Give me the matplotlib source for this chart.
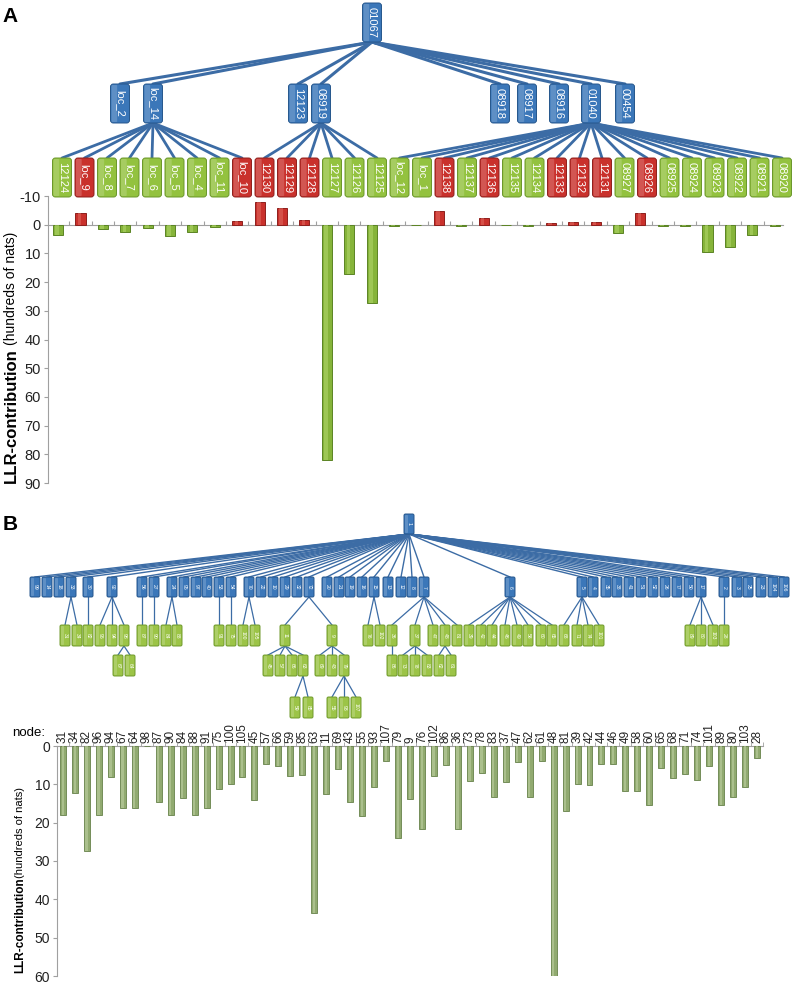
import matplotlib
matplotlib.use('Agg')
import matplotlib.pyplot as plt
from matplotlib.patches import FancyBboxPatch
import numpy as np

plt.rcParams['font.family'] = ['Liberation Sans', 'DejaVu Sans']
NARROW = ['Liberation Sans Narrow', 'Liberation Sans', 'DejaVu Sans']

# ---------------- Panel A data ----------------
a_root = '01067'
a_mid = ['loc_2', 'loc_14', '12123', '08919', '08918', '08917', '08916', '01040', '00454']
a_leaves = ['12124', 'loc_9', 'loc_8', 'loc_7', 'loc_6', 'loc_5', 'loc_4', 'loc_11', 'loc_10',
            '12130', '12129', '12128', '12127', '12126', '12125', 'loc_12', 'loc_1',
            '12138', '12137', '12136', '12135', '12134', '12133', '12132', '12131',
            '08927', '08926', '08925', '08924', '08923', '08922', '08921', '08920']
a_leaf_parent = ['loc_14'] * 9 + ['08919'] * 6 + ['01040'] * 18
a_leaf_class = ['g', 'r', 'g', 'g', 'g', 'g', 'g', 'g', 'r',
                'r', 'r', 'r', 'g', 'g', 'g', 'g', 'g',
                'r', 'g', 'r', 'g', 'g', 'r', 'r', 'r',
                'g', 'r', 'g', 'g', 'g', 'g', 'g', 'g']
a_llr = [3.5, -4.0, 1.5, 2.6, 1.2, 4.0, 2.6, 0.7, -1.2,
         -7.8, -5.9, -1.7, 82.0, 17.3, 27.2, 0.3, 0.0,
         -4.6, 0.4, -2.5, 0.0, 0.3, -0.5, -1.1, -1.1,
         2.9, -4.2, 0.4, 0.6, 9.5, 7.9, 3.5, 0.3]
a_yticks = [-10, 0, 10, 20, 30, 40, 50, 60, 70, 80, 90]

# ---------------- Panel B data ----------------
b_root = '1'
b_mid = ['99', '14', '18', '33', '30', '92', '56', '27', '24', '95',
         '97', '40', '53', '54', '70', '22', '10', '29', '32', '72',
         '20', '21', '19', '16', '15', '13', '12', '8', '7', '6',
         '5', '4', '35', '38', '41', '51', '52', '26', '77', '50',
         '17', '2', '3', '25', '23', '104', '106']
# green nodes: (label, parent, row)
b_green = [('31', '33', 1), ('34', '33', 1), ('82', '30', 1), ('96', '92', 1), ('94', '92', 1),
           ('98', '92', 1), ('87', '56', 1), ('90', '27', 1), ('84', '24', 1), ('88', '24', 1),
           ('91', '53', 1), ('75', '54', 1), ('100', '70', 1), ('105', '70', 1), ('11', '72', 1),
           ('9', '72', 1), ('76', '15', 1), ('102', '15', 1), ('36', '7', 1), ('37', '7', 1),
           ('47', '7', 1), ('48', '7', 1), ('81', '7', 1),
           ('39', '6', 1), ('42', '6', 1), ('44', '6', 1), ('46', '6', 1), ('49', '6', 1),
           ('58', '6', 1), ('60', '6', 1), ('65', '6', 1),
           ('68', '5', 1), ('71', '5', 1), ('74', '5', 1), ('101', '5', 1),
           ('89', '17', 1), ('80', '17', 1), ('103', '17', 1), ('28', '2', 1),
           ('67', '98', 2), ('64', '98', 2), ('45', '11', 2), ('57', '11', 2), ('66', '11', 2),
           ('63', '11', 2), ('69', '9', 2), ('43', '9', 2), ('79', '9', 2), ('86', '36', 2),
           ('73', '37', 2), ('78', '37', 2), ('83', '37', 2), ('62', '48', 2), ('61', '48', 2),
           ('59', '63', 3), ('85', '63', 3), ('55', '79', 3), ('93', '79', 3), ('107', '79', 3)]
b_nodes = ['31', '34', '82', '96', '94', '67', '64', '98', '87', '90', '84', '88', '91', '75',
           '100', '105', '45', '57', '66', '59', '85', '63', '11', '69', '43', '55', '93', '107',
           '79', '9', '76', '102', '86', '36', '73', '78', '83', '37', '47', '62', '61', '48',
           '81', '39', '42', '44', '46', '49', '58', '60', '65', '68', '71', '74', '101', '89',
           '80', '103', '28']
b_llr = [18.1, 12.2, 27.5, 18.1, 8.2, 16.3, 16.1, 0.0, 14.7, 18.1, 13.5, 18.1, 16.3, 11.2,
         9.9, 8.1, 14.2, 4.7, 5.3, 7.8, 7.6, 43.5, 12.5, 6.0, 14.7, 18.3, 10.8, 4.0,
         24.0, 13.8, 21.6, 7.8, 4.9, 21.6, 9.0, 7.1, 13.4, 9.5, 4.3, 13.4, 3.9, 60.5,
         17.0, 9.8, 10.1, 4.7, 4.7, 11.8, 11.8, 15.5, 5.8, 8.4, 7.2, 8.8, 5.3, 15.5,
         13.3, 10.7, 3.2]
b_yticks = [0, 10, 20, 30, 40, 50, 60]

# ---------------- layout (pixels) ----------------
W, H = 795, 984
A_root_xy = (372, 3)
A_mid_x = [120, 153, 298, 321, 500, 527, 559, 591, 625]
A_mid_top, A_leaf_top, A_boxh, A_boxw = 84, 158, 39, 19
A_leaf_x = [62 + 22.5 * i for i in range(len(a_leaves))]

B_root_xy = (409, 514)
B_mid_x = [35, 47, 59, 71, 88, 112, 142, 154, 172, 184,
           196, 207, 219, 231, 249, 261, 273, 285, 297, 309,
           327, 339, 350, 362, 374, 388, 401, 412, 424, 510,
           582, 593, 606, 617, 629, 641, 653, 665, 677, 689,
           701, 724, 737, 748, 761, 773, 784]
B_green_x = [65, 77, 88, 100, 112, 124, 142, 154, 166, 177, 219, 231, 243, 255, 285, 332,
             368, 380, 392, 415, 433, 445, 457, 469, 481, 492, 505, 517, 528, 541, 552,
             564, 577, 588, 599, 690, 701, 713, 724,
             118, 130, 268, 280, 292, 303, 320, 332, 344, 392, 403, 415, 427, 439, 451,
             295, 308, 332, 344, 356]
B_row_top = {0: 577, 1: 625, 2: 655, 3: 697}
B_boxw, B_boxh = 10, 20
B_top, B_bot = 746, 976

BLUE, BLUE_E = '#3b77b9', '#25568c'
GREEN, GREEN_E = '#93c23f', '#6a962a'
RED, RED_E = '#c9312c', '#8e1f1c'
LINE = '#3c6ca5'

fig = plt.figure(figsize=(W / 100, H / 100), dpi=100)
ov = fig.add_axes([0, 0, 1, 1])
ov.set_xlim(0, W)
ov.set_ylim(H, 0)
ov.axis('off')


def box(cx, top, w, h, fc, ec, label, fs):
    ov.add_patch(FancyBboxPatch((cx - w / 2, top), w, h,
                                boxstyle="round,pad=0,rounding_size=%.1f" % (min(w, h) * 0.15),
                                fc=fc, ec=ec, lw=0.7, zorder=3))
    ov.add_patch(FancyBboxPatch((cx - w / 2 + 1, top + 1), w * 0.3, h - 2,
                                boxstyle="round,pad=0,rounding_size=1",
                                fc='white', ec='none', alpha=0.18, zorder=4))
    ov.text(cx, top + h / 2, label, rotation=-90, ha='center', va='center',
            color='white', fontsize=fs, zorder=5)


# ---- Panel A tree ----
ov.text(10, 16, 'A', fontsize=15, fontweight='bold', ha='center', va='center')
rx, ry = A_root_xy
mid_pos = dict(zip(a_mid, A_mid_x))
for x in A_mid_x:
    ov.plot([rx, x], [ry + A_boxh, A_mid_top], color=LINE, lw=2.2, zorder=2,
            solid_capstyle='round')
for lab, x, par in zip(a_leaves, A_leaf_x, a_leaf_parent):
    ov.plot([mid_pos[par], x], [A_mid_top + A_boxh, A_leaf_top], color=LINE, lw=2.0,
            zorder=2, solid_capstyle='round')
box(rx, ry, A_boxw, A_boxh, BLUE, BLUE_E, a_root, 8)
for lab, x in zip(a_mid, A_mid_x):
    box(x, A_mid_top, A_boxw, A_boxh, BLUE, BLUE_E, lab, 8)
for lab, x, c in zip(a_leaves, A_leaf_x, a_leaf_class):
    if c == 'r':
        box(x, A_leaf_top, A_boxw, A_boxh, RED, RED_E, lab, 8)
    else:
        box(x, A_leaf_top, A_boxw, A_boxh, GREEN, GREEN_E, lab, 8)

# ---- Panel B tree ----
ov.text(10, 525, 'B', fontsize=15, fontweight='bold', ha='center', va='center')
brx, bry = B_root_xy
pos = {}
for lab, x in zip(b_mid, B_mid_x):
    pos[lab] = (x, 0)
for (lab, par, row), x in zip(b_green, B_green_x):
    pos[lab] = (x, row)
for x in B_mid_x:
    ov.plot([brx, x], [bry + B_boxh, B_row_top[0]], color=LINE, lw=1.0, zorder=2)
for lab, par, row in b_green:
    px_, prow = pos[par]
    cx, _ = pos[lab]
    ov.plot([px_, cx], [B_row_top[prow] + B_boxh + (1 if prow else 0), B_row_top[row]],
            color=LINE, lw=0.9, zorder=2)
box(brx, bry, B_boxw, B_boxh, BLUE, BLUE_E, b_root, 4)
for lab, x in zip(b_mid, B_mid_x):
    box(x, B_row_top[0], B_boxw, B_boxh, BLUE, BLUE_E, lab, 3.6)
for lab, par, row in b_green:
    x, _ = pos[lab]
    box(x, B_row_top[row], B_boxw, B_boxh + 1, '#9cc447', '#6f9a2c', lab, 3.6)

# ---- Panel A bars ----
axA = fig.add_axes([48 / W, 1 - 483 / H, (783 - 48) / W, (483 - 196) / H])
xa = np.arange(len(a_leaves))
fa = [RED if c == 'r' else '#86b43a' for c in a_leaf_class]
ea = [RED_E if c == 'r' else '#5b8424' for c in a_leaf_class]
ha_ = ['#e06a60' if c == 'r' else '#b3d86c' for c in a_leaf_class]
axA.bar(xa, a_llr, width=0.45, color=fa, edgecolor=ea, linewidth=0.7, zorder=3)
axA.bar(xa - 0.04, a_llr, width=0.16, color=ha_, edgecolor='none', alpha=0.55, zorder=4)
axA.set_ylim(90, -10)
axA.set_xlim(-0.45, 32.37)
axA.set_yticks(a_yticks)
axA.set_yticklabels([str(v) for v in a_yticks], fontsize=10.5, family=NARROW, color='#222222')
for s in ['right', 'bottom']:
    axA.spines[s].set_visible(False)
axA.spines['top'].set_position(('data', 0))
axA.spines['top'].set_color('#a0a0a0')
axA.spines['left'].set_color('#a0a0a0')
axA.xaxis.set_ticks_position('top')
axA.set_xticks(np.arange(len(a_leaves) - 1) + 0.5)
axA.set_xticklabels([])
axA.tick_params(axis='x', length=3, color='#a0a0a0', direction='out')
axA.tick_params(axis='y', length=3, color='#a0a0a0', pad=2)
axA.patch.set_alpha(0)

fig.text(11 / W, 1 - 416 / H, 'LLR-contribution', rotation=90, fontsize=12,
         fontweight='bold', ha='center', va='center')
fig.text(11 / W, 1 - 288 / H, '(hundreds of nats)', rotation=90, fontsize=10,
         ha='center', va='center', family=NARROW)

# ---- Panel B bars ----
axB = fig.add_axes([57 / W, 1 - B_bot / H, (763 - 57) / W, (B_bot - B_top) / H])
xb = np.arange(len(b_nodes))
axB.bar(xb, b_llr, width=0.5, color='#91aa70', edgecolor='#67824a', linewidth=0.6, zorder=3)
axB.bar(xb - 0.03, b_llr, width=0.18, color='#bed0a2', edgecolor='none', alpha=0.6, zorder=4)
axB.set_ylim(60, 0)
axB.set_xlim(-0.5, 58.5)
axB.set_yticks(b_yticks)
axB.set_yticklabels([str(v) for v in b_yticks], fontsize=10, family=NARROW, color='#222222')
for s in ['right', 'bottom']:
    axB.spines[s].set_visible(False)
axB.spines['top'].set_color('#a0a0a0')
axB.spines['left'].set_color('#a0a0a0')
axB.xaxis.tick_top()
axB.set_xticks(xb)
axB.set_xticklabels(b_nodes, rotation=90, fontsize=8.5, family=NARROW, color='#222222')
axB.set_xticks(np.arange(len(b_nodes)) + 0.5, minor=True)
axB.tick_params(axis='x', which='major', length=0, pad=2)
axB.tick_params(axis='x', which='minor', length=3, color='#a0a0a0')
axB.tick_params(axis='y', length=3, color='#a0a0a0', pad=2)
axB.patch.set_alpha(0)

fig.text(29 / W, 1 - 733 / H, 'node:', fontsize=9.5, ha='center', va='center', family=NARROW)
fig.text(20 / W, 1 - 925 / H, 'LLR-contribution', rotation=90, fontsize=8.5,
         fontweight='bold', ha='center', va='center')
fig.text(20 / W, 1 - 832 / H, '(hundreds of nats)', rotation=90, fontsize=8,
         ha='center', va='center', family=NARROW)

fig.savefig('out.png', dpi=100)
